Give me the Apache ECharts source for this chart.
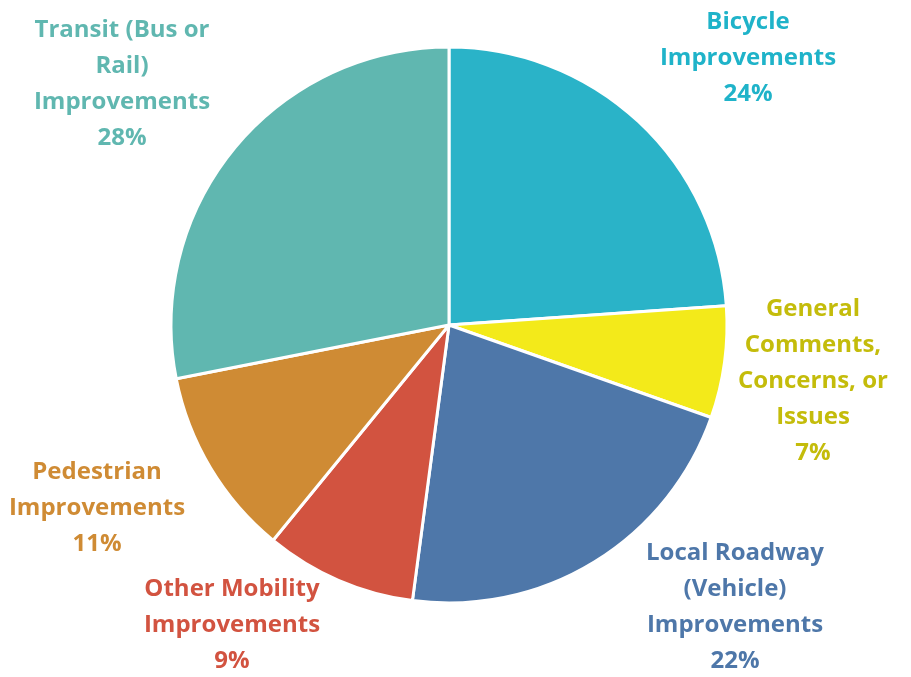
<!DOCTYPE html>
<html><head><meta charset="utf-8">
<script src="https://cdn.jsdelivr.net/npm/echarts@6/dist/echarts.min.js"></script>
<style>html,body{margin:0;padding:0;background:#fff}#c{width:911px;height:677px}</style>
</head><body><div id="c"></div>
<script>
const categories = ['Bicycle\nImprovements', 'General\nComments,\nConcerns, or\nIssues', 'Local Roadway\n(Vehicle)\nImprovements', 'Other Mobility\nImprovements', 'Pedestrian\nImprovements', 'Transit (Bus or\nRail)\nImprovements'];
const values = [23.9, 6.5, 21.7, 8.8, 11.0, 28.1];
const sliceColors = ['#2AB3C8', '#F3EA1A', '#4E77A9', '#D25340', '#CF8B34', '#60B7B0'];
const labelColors = ['#1FB3C9', '#C4BC0B', '#4E77A9', '#D25340', '#CF8B34', '#60B7B0'];
const labelPos = [[748, 58], [813, 381], [735, 607], [232, 625], [97, 508], [122, 84]];

const chart = echarts.init(document.getElementById('c'), null, {renderer: 'canvas'});
chart.setOption({
  animation: false,
  series: [{
    type: 'pie',
    center: [449, 325],
    radius: [0, 278],
    startAngle: 90,
    clockwise: true,
    data: categories.map((n, i) => ({
      name: n, value: values[i],
      itemStyle: {color: sliceColors[i]},
      label: {color: labelColors[i]}
    })),
    itemStyle: {borderColor: '#fff', borderWidth: 3},
    labelLine: {show: false},
    label: {
      show: true, position: 'outside', overflow: 'none',
      fontFamily: 'Open Sans', fontWeight: 'bold', fontSize: 24, lineHeight: 36,
      align: 'center',
      formatter: p => p.name + '\n' + Math.round(p.percent) + '%'
    },
    labelLayout: p => ({x: labelPos[p.dataIndex][0], y: labelPos[p.dataIndex][1], align: 'center', verticalAlign: 'middle'})
  }]
});
</script></body></html>
